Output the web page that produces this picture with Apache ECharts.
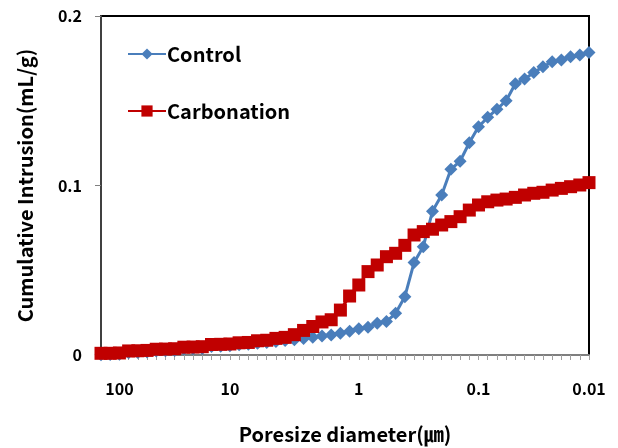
<!DOCTYPE html>
<html>
<head>
<meta charset="utf-8">
<script src="https://cdn.jsdelivr.net/npm/echarts@6/dist/echarts.min.js"></script>
<style>html,body{margin:0;padding:0;background:#fff;}#chart{width:618px;height:448px;}</style>
</head>
<body>
<div id="chart"></div>
<script>
// Pore diameters (µm) for each measured point (category axis, as in the original)
const poreSizes = [140, 120, 100, 82, 68, 56, 46, 39, 32, 26, 21, 17, 14, 12, 10, 8.5, 7, 5.8, 4.8, 4,
  3.3, 2.7, 2.3, 1.9, 1.6, 1.4, 1.2, 1.1, 1, 0.85, 0.7, 0.58, 0.48, 0.4, 0.34, 0.28, 0.24, 0.2, 0.17, 0.14,
  0.12, 0.1, 0.085, 0.07, 0.058, 0.048, 0.04, 0.033, 0.027, 0.022, 0.018, 0.015, 0.012, 0.01];
const xTickLabels = ['100', '10', '1', '0.1', '0.01'];
const yTicks = [0, 0.1, 0.2];
const controlValues = [0.0002, 0.0003, 0.0004, 0.0014, 0.0015, 0.0017, 0.0024, 0.0025, 0.0027, 0.0036,
  0.0037, 0.0039, 0.0050, 0.0052, 0.0054, 0.0060, 0.0063, 0.0070, 0.0074, 0.0080,
  0.0085, 0.0090, 0.0098, 0.0104, 0.0112, 0.0118, 0.0128, 0.0140, 0.0155, 0.0163,
  0.0187, 0.0197, 0.0246, 0.0344, 0.0545, 0.0639, 0.0848, 0.0944, 0.1096, 0.1143,
  0.1252, 0.1347, 0.1402, 0.1450, 0.1500, 0.1600, 0.1628, 0.1666, 0.1700, 0.1730,
  0.1740, 0.1760, 0.1770, 0.1784];
const carbonationValues = [0.0010, 0.0010, 0.0012, 0.0024, 0.0025, 0.0027, 0.0034, 0.0035, 0.0037, 0.0046,
  0.0047, 0.0049, 0.0062, 0.0063, 0.0065, 0.0072, 0.0074, 0.0084, 0.0087, 0.0098,
  0.0104, 0.0120, 0.0145, 0.0168, 0.0195, 0.0208, 0.0265, 0.0348, 0.0413, 0.0492,
  0.0531, 0.0580, 0.0600, 0.0647, 0.0708, 0.0728, 0.0742, 0.0767, 0.0787, 0.0816,
  0.0855, 0.0885, 0.0904, 0.0914, 0.0920, 0.0930, 0.0944, 0.0954, 0.0960, 0.0973,
  0.0983, 0.0993, 0.1003, 0.1017];
const seriesNames = ['Control', 'Carbonation'];
const xTitle = 'Poresize diameter(㎛)';
const yTitle = 'Cumulative Intrusion(mL/g)';

const FONT = '"Noto Sans CJK KR", "Open Sans", sans-serif';
const chart = echarts.init(document.getElementById('chart'), null, {renderer: 'canvas'});
chart.setOption({
  animation: false,
  backgroundColor: '#fff',
  grid: {left: 101, right: 29, top: 16, bottom: 93, outerBoundsMode: 'none', containLabel: false,
    show: true, borderColor: '#000', borderWidth: 2, backgroundColor: 'transparent'},
  legend: {
    orient: 'vertical', left: 122, top: 39, itemGap: 37, itemWidth: 38, itemHeight: 14,
    textStyle: {fontFamily: FONT, fontWeight: 'bold', fontSize: 20, color: '#000', padding: [0, 0, 0, -4]},
    data: seriesNames
  },
  xAxis: {
    type: 'category', boundaryGap: false,
    data: poreSizes.map(String),
    name: xTitle, nameLocation: 'middle', nameGap: 69,
    nameTextStyle: {fontFamily: FONT, fontWeight: 'bold', fontSize: 20, color: '#000'},
    axisLine: {lineStyle: {color: '#7f7f7f', width: 2}},
    axisTick: {show: true, interval: 0, length: 5, lineStyle: {color: '#a0a0a0', width: 1}},
    axisLabel: {
      interval: (i, v) => xTickLabels.indexOf(v) >= 0,
      formatter: v => (xTickLabels.indexOf(v) >= 0 ? v : ''),
      margin: 26, fontFamily: FONT, fontWeight: 'bold', fontSize: 16, color: '#000'
    },
    splitLine: {show: false}
  },
  yAxis: {
    type: 'value', min: yTicks[0], max: yTicks[yTicks.length - 1], interval: 0.1,
    name: yTitle, nameLocation: 'middle', nameGap: 66,
    nameTextStyle: {fontFamily: FONT, fontWeight: 'bold', fontSize: 20, color: '#000'},
    axisLine: {show: true, lineStyle: {color: '#404040', width: 2}},
    axisTick: {show: true, length: 6, lineStyle: {color: '#808080'}},
    axisLabel: {margin: 19, fontFamily: FONT, fontWeight: 'bold', fontSize: 16, color: '#000'},
    splitLine: {show: false}
  },
  series: [
    {
      name: seriesNames[0], type: 'line', data: controlValues,
      symbol: 'diamond', symbolSize: 13, showAllSymbol: true,
      lineStyle: {color: '#4a7ebb', width: 3},
      itemStyle: {color: '#4a7ebb'}
    },
    {
      name: seriesNames[1], type: 'line', data: carbonationValues,
      symbol: 'rect', symbolSize: 13, showAllSymbol: true,
      lineStyle: {color: '#c00000', width: 3},
      itemStyle: {color: '#c00000'}
    }
  ]
});
</script>
</body>
</html>
